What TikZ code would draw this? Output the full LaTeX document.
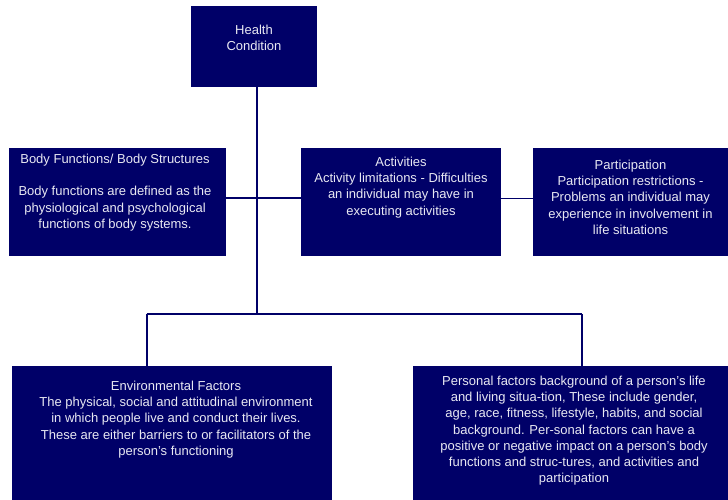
\documentclass[tikz,border=0pt]{standalone}
\usepackage{fontspec}
\setmainfont{Liberation Sans}
\usetikzlibrary{calc, positioning}

\definecolor{navy}{RGB}{0,0,104}
\definecolor{paletext}{RGB}{232,232,242}

\begin{document}
\begin{tikzpicture}[x=1pt, y=-1pt,
    box/.style={fill=navy, draw=none, inner sep=0, outer sep=0},
    boxtext/.style={text=paletext, align=center, inner sep=0,
        font=\fontsize{13}{16.3}\selectfont},
    link/.style={draw=navy, line width=1.6pt}]
\useasboundingbox (0,0) rectangle (728,500);

\node[box, minimum width=126, minimum height=81] (hc) at (254, 46.5) {};
\node[box, minimum width=217, minimum height=108] (bf) at (117.5, 202) {};
\node[box, minimum width=200, minimum height=108] (act) at (401, 202) {};
\node[box, minimum width=195, minimum height=108] (par) at (630.5, 202) {};
\node[box, minimum width=320, minimum height=134] (env) at (172, 433) {};
\node[box, minimum width=315, minimum height=134] (pf) at (570.5, 433) {};

\node[boxtext, anchor=north] (hct) at (254, 24.5) {Health\\Condition};
\node[boxtext, anchor=north] (bft) at (115, 153.5) {Body Functions/ Body Structures\\[16.3pt]
    Body functions are defined as the\\physiological and psychological\\functions of body systems.};
\node[boxtext, anchor=north] (actt) at (401, 156.5) {Activities\\Activity limitations - Difficulties\\
    an individual may have in\\executing activities};
\node[boxtext, anchor=north] (part) at (630.5, 159.5) {Participation\\Participation restrictions -\\
    Problems an individual may\\experience in involvement in\\life situations};
\node[boxtext, anchor=north] (envt) at (176, 380.5) {Environmental Factors\\
    The physical, social and attitudinal environment\\in which people live and conduct their lives.\\
    These are either barriers to or facilitators of the\\person's functioning};
\node[boxtext, anchor=north] (pft) at (574, 375.5) {Personal factors background of a person's life\\
    and living situa-tion, These include gender,\\age, race, fitness, lifestyle, habits, and social\\
    background. Per-sonal factors can have a\\positive or negative impact on a person's body\\
    functions and struc-tures, and activities and\\participation};

% trunk and branches
\coordinate (trunk) at (257, 314);
\coordinate (envup) at (146.7, 314);
\coordinate (pfup) at (582, 314);

\draw[link] (hc.south -| trunk) -- (trunk);
\draw[link] ($(bf.east)+(0,-4)$) -- ($(act.west)+(0,-4)$);
\draw[link] ($(act.east)+(0,-3.5)$) -- ($(par.west)+(0,-3.5)$);
\draw[link] (envup) -- (pfup);
\draw[link] (envup) -- (env.north -| envup);
\draw[link] (pfup) -- (pf.north -| pfup);

\end{tikzpicture}
\end{document}
